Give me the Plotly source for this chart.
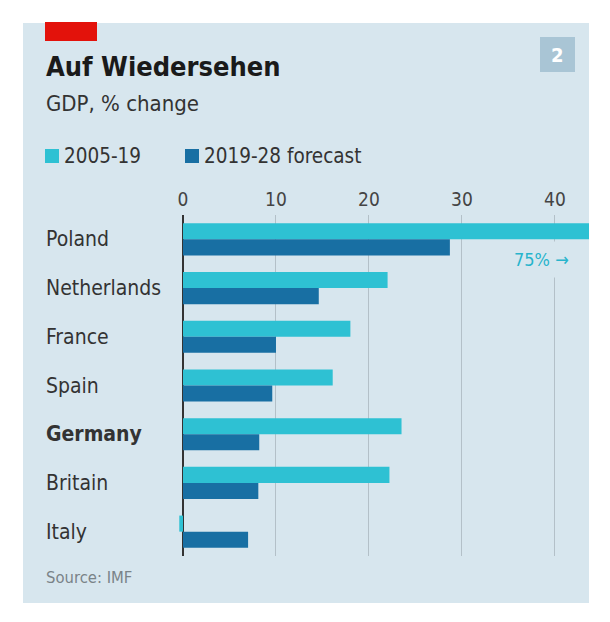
import plotly.graph_objects as go

W, H = 610, 622

countries = ["Poland", "Netherlands", "France", "Spain", "Germany", "Britain", "Italy"]
growth_2005_19 = [75.0, 22.0, 18.0, 16.1, 23.5, 22.2, -0.4]
forecast_2019_28 = [28.7, 14.6, 10.0, 9.6, 8.2, 8.1, 7.0]
series_names = ["2005-19", "2019-28 forecast"]
tick_values = [0, 10, 20, 30, 40]

PANEL = "#d7e6ee"
LIGHT = "#2ec1d3"
DARK = "#186fa3"
FONT = "DejaVu Sans Condensed, Roboto, sans-serif"


def px(x):
    return x / W


def py(y):
    return 1 - y / H


fig = go.Figure()
fig.add_trace(go.Bar(y=countries, x=growth_2005_19, orientation="h",
                     name=series_names[0], marker=dict(color=LIGHT, line_width=0)))
fig.add_trace(go.Bar(y=countries, x=forecast_2019_28, orientation="h",
                     name=series_names[1], marker=dict(color=DARK, line_width=0)))

shapes = [
    # panel background
    dict(type="rect", xref="paper", yref="paper", x0=px(23), x1=px(589), y0=py(603), y1=py(23),
         fillcolor=PANEL, line_width=0, layer="below"),
    # red tag
    dict(type="rect", xref="paper", yref="paper", x0=px(45), x1=px(97), y0=py(41), y1=py(22),
         fillcolor="#e3120b", line_width=0),
    # chart number box
    dict(type="rect", xref="paper", yref="paper", x0=px(540), x1=px(575), y0=py(72), y1=py(37),
         fillcolor="#a9c5d5", line_width=0),
    # legend squares
    dict(type="rect", xref="paper", yref="paper", x0=px(45), x1=px(59), y0=py(163), y1=py(149),
         fillcolor=LIGHT, line_width=0),
    dict(type="rect", xref="paper", yref="paper", x0=px(185), x1=px(199), y0=py(163), y1=py(149),
         fillcolor=DARK, line_width=0),
]

annotations = [
    dict(text="<b>Auf Wiedersehen</b>", x=px(44), y=py(66), xref="paper", yref="paper",
         xanchor="left", yanchor="middle", showarrow=False,
         font=dict(family=FONT, size=27, color="#1a1a1a")),
    dict(text="GDP, % change", x=px(44), y=py(103), xref="paper", yref="paper",
         xanchor="left", yanchor="middle", showarrow=False,
         font=dict(family=FONT, size=22, color="#333333")),
    dict(text="<b>2</b>", x=px(557.5), y=py(55), xref="paper", yref="paper",
         xanchor="center", yanchor="middle", showarrow=False,
         font=dict(family=FONT, size=20, color="white")),
    dict(text=series_names[0], x=px(62), y=py(156), xref="paper", yref="paper",
         xanchor="left", yanchor="middle", showarrow=False,
         font=dict(family=FONT, size=20.5, color="#333333")),
    dict(text=series_names[1], x=px(202), y=py(156), xref="paper", yref="paper",
         xanchor="left", yanchor="middle", showarrow=False,
         font=dict(family=FONT, size=20.5, color="#333333")),
    dict(text="Source: IMF", x=px(44), y=py(577), xref="paper", yref="paper",
         xanchor="left", yanchor="middle", showarrow=False,
         font=dict(family=FONT, size=16.5, color="#7a8388")),
    dict(text="75% →", x=38.5, y=countries[0], xref="x", yref="y", yshift=-20,
         xanchor="center", yanchor="middle", showarrow=False, bgcolor=PANEL, borderpad=7,
         font=dict(family=FONT, size=18, color="#27b4cc")),
]
for c in countries:
    label = f"<b>{c}</b>" if c == "Germany" else c
    annotations.append(dict(text=label, x=px(44), y=c, xref="paper", yref="y",
                            xanchor="left", yanchor="middle", showarrow=False,
                            font=dict(family=FONT, size=21, color="#333333")))

fig.update_layout(
    width=W, height=H,
    margin=dict(l=0, r=0, t=0, b=0),
    paper_bgcolor="white",
    plot_bgcolor="rgba(0,0,0,0)",
    barmode="group",
    bargap=0.34,
    bargroupgap=0,
    showlegend=False,
    shapes=shapes,
    annotations=annotations,
    xaxis=dict(domain=[px(175), px(589)], range=[-0.86, 43.66], side="top",
               tickvals=tick_values, showgrid=True, gridcolor="#b3c0c8", gridwidth=1,
               zeroline=True, zerolinecolor="#333333", zerolinewidth=1.5,
               showline=False, ticks="", ticklabelstandoff=4,
               tickfont=dict(family=FONT, size=19, color="#444444"), fixedrange=True),
    yaxis=dict(domain=[py(556), py(215)], range=[6.5, -0.5], autorange=False,
               type="category", categoryorder="array", categoryarray=countries,
               showticklabels=False, showgrid=False, ticks="", fixedrange=True),
)

fig.write_html("out.html")
